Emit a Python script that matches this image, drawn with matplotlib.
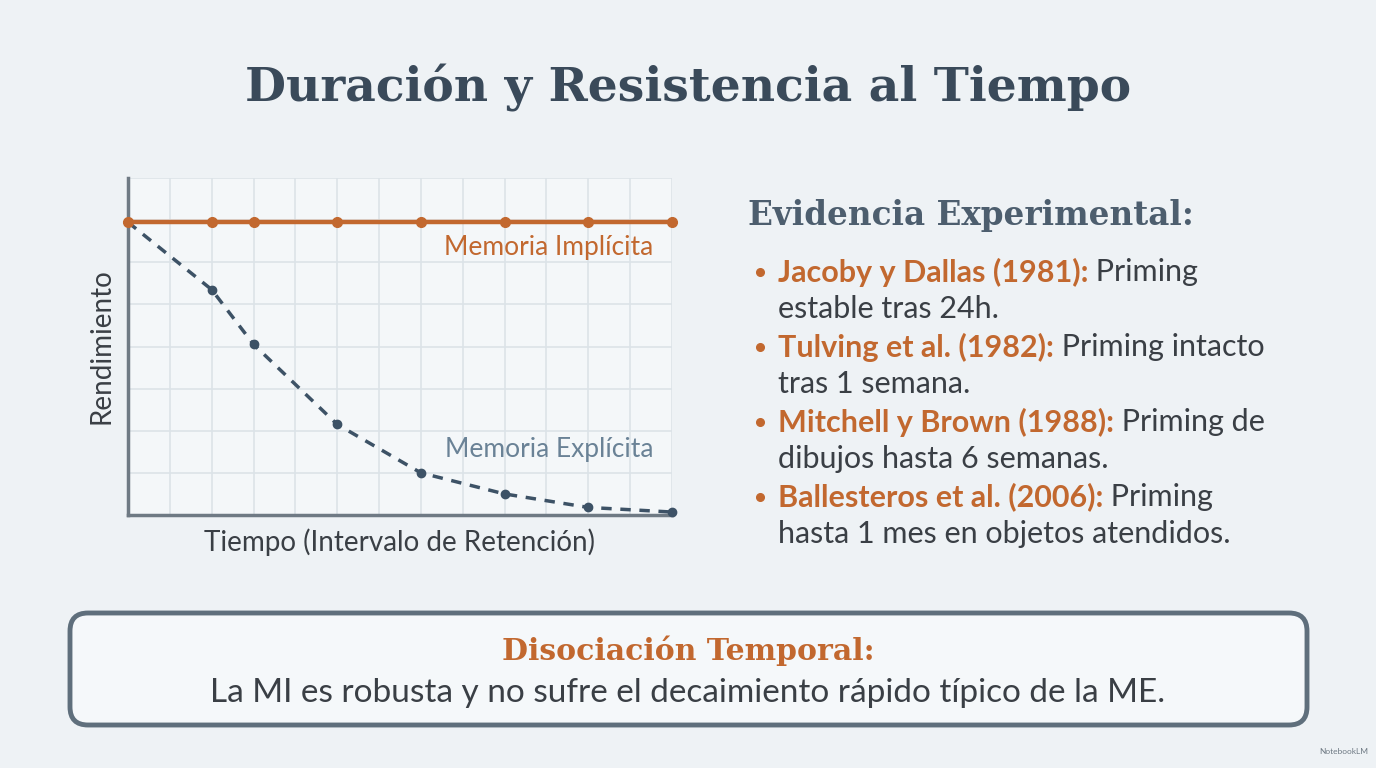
import numpy as np
import matplotlib
matplotlib.use("Agg")
import matplotlib.pyplot as plt
from matplotlib.patches import FancyBboxPatch

# --- datos ---
tiempo = [0, 2, 3, 5, 7, 9, 11, 13]
implicita = [6.95, 6.95, 6.95, 6.95, 6.95, 6.95, 6.95, 6.95]
explicita = [6.95, 5.35, 4.05, 2.15, 1.0, 0.5, 0.18, 0.07]

titulo = "Duración y Resistencia al Tiempo"
subtitulo = "Evidencia Experimental:"
estudios = ["Jacoby y Dallas (1981):", "Tulving et al. (1982):",
            "Mitchell y Brown (1988):", "Ballesteros et al. (2006):"]
hallazgos = [(" Priming", "estable tras 24h."),
             (" Priming intacto", "tras 1 semana."),
             (" Priming de", "dibujos hasta 6 semanas."),
             (" Priming", "hasta 1 mes en objetos atendidos.")]
caja_titulo = "Disociación Temporal:"
caja_texto = "La MI es robusta y no sufre el decaimiento rápido típico de la ME."

# colores
fondo = "#eef2f5"
naranja = "#c2682f"
pizarra = "#3d5266"
gris_txt = "#3a3f45"

W, H = 1376, 768
fig = plt.figure(figsize=(W / 100, H / 100), dpi=100, facecolor=fondo)

# capa de fondo en pixeles (y hacia abajo)
bg = fig.add_axes([0, 0, 1, 1])
bg.set_xlim(0, W)
bg.set_ylim(H, 0)
bg.axis("off")

bg.text(688, 88, titulo, ha="center", va="center", family="DejaVu Serif",
        weight="bold", fontsize=34, color="#3a4a5a")

# ---------------- grafico ----------------
ax = fig.add_axes([128 / W, 1 - 515 / H, 544 / W, 337 / H])
ax.set_facecolor("#f4f7f9")
ax.set_xlim(0, 13)
ax.set_ylim(0, 8)
ax.set_xticks(np.arange(0, 14))
ax.set_yticks(np.arange(0, 9))
ax.tick_params(length=0, labelbottom=False, labelleft=False)
ax.grid(True, color="#dce3e8", lw=1.2)
for s in ["top", "right"]:
    ax.spines[s].set_visible(False)
for s in ["left", "bottom"]:
    ax.spines[s].set_color("#6f7a84")
    ax.spines[s].set_linewidth(2.5)

ax.plot(tiempo, explicita, color=pizarra, lw=2.5, ls=(0, (3, 2.5)),
        marker="o", ms=6, clip_on=False, zorder=3)
ax.plot(tiempo, implicita, color=naranja, lw=3.2, marker="o", ms=7,
        clip_on=False, zorder=4)

ax.text(12.55, 6.35, "Memoria Implícita", ha="right", va="center",
        family="Lato", fontsize=19, color=naranja)
ax.text(12.55, 1.55, "Memoria Explícita", ha="right", va="center",
        family="Lato", fontsize=19, color="#6a8296")
ax.set_xlabel("Tiempo (Intervalo de Retención)", family="Lato", fontsize=20,
              color=gris_txt, labelpad=10)
ax.set_ylabel("Rendimiento", family="Lato", fontsize=20, color=gris_txt,
              labelpad=10)

# ---------------- texto derecho ----------------
bg.text(748, 215, subtitulo, ha="left", va="center", family="DejaVu Serif",
        weight="bold", fontsize=23.5, color="#4d5e6e")

fig.canvas.draw()
r = fig.canvas.get_renderer()
inv = bg.transData.inverted()
y0 = 272
for est, (resto, linea2) in zip(estudios, hallazgos):
    bg.plot(760, y0, "o", color=naranja, ms=5.5)
    t = bg.text(778, y0, est, ha="left", va="center", family="Lato",
                weight="bold", fontsize=22, color=naranja)
    bb = t.get_window_extent(renderer=r)
    x_end = inv.transform((bb.x1, bb.y0))[0]
    bg.text(x_end, y0, resto, ha="left", va="center", family="Lato",
            fontsize=22, color=gris_txt)
    bg.text(778, y0 + 37, linea2, ha="left", va="center", family="Lato",
            fontsize=22, color=gris_txt)
    y0 += 75

# ---------------- caja inferior ----------------
caja = FancyBboxPatch((70, 613), 1237, 112,
                      boxstyle="round,pad=0,rounding_size=18",
                      fc="#f5f8fa", ec="#5f6f7c", lw=3.5)
bg.add_patch(caja)
bg.text(688, 651, caja_titulo, ha="center", va="center", family="DejaVu Serif",
        weight="bold", fontsize=21.5, color=naranja)
bg.text(688, 693, caja_texto, ha="center", va="center", family="Lato",
        fontsize=24, color=gris_txt)

bg.text(1368, 752, "NotebookLM", ha="right", va="center", family="Lato",
        fontsize=6, color="#6f7a84")

fig.savefig("out.png", dpi=100, facecolor=fondo)
